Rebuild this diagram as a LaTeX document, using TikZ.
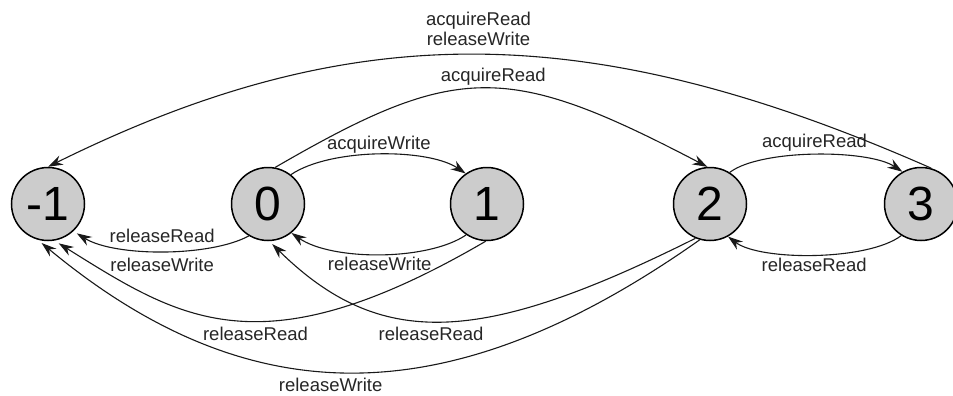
\documentclass[tikz,border=0pt]{standalone}
\usepackage{fontspec}
\setmainfont{Liberation Sans}
\usetikzlibrary{arrows.meta}
\definecolor{nodefill}{RGB}{204,204,204}
\definecolor{edgecol}{RGB}{25,25,25}
\begin{document}
\begin{tikzpicture}[x=1pt,y=-1pt,
  state/.style={circle,draw=black,line width=1.5pt,fill=nodefill,minimum size=73pt,inner sep=0pt,font=\fontsize{48}{48}\selectfont},
  edge/.style={draw=edgecol,line width=1.1pt,-{Stealth[length=15pt,width=10pt,inset=5pt]}},
  lbl/.style={font=\fontsize{18.5}{20}\selectfont,inner sep=0pt,text height=13pt,text depth=4pt,text=black!85},
  lbltwo/.style={font=\fontsize{18.5}{20}\selectfont,inner sep=0pt,align=center,text=black!85}]
\useasboundingbox (0,0) rectangle (953,396);
\node[state] (m1) at (48,204) {-1};
\node[state] (s0) at (268,204) {0};
\node[state] (s1) at (487,204) {1};
\node[state] (s2) at (710,204) {2};
\node[state] (s3) at (921,204) {3};
% 0 -> 1
\draw[edge] (s0.52) .. controls (330,148) and (428,148) .. node[lbl,pos=.5,yshift=10pt]{acquireWrite} (s1.125);
% 1 -> 0
\draw[edge] (s1.-124) .. controls (428,261) and (332,261) .. node[lbl,pos=.5,yshift=-12pt]{releaseWrite} (s0.-51);
% 0 -> -1
\draw[edge,shorten >=4pt] (s0.-121) .. controls (210,257) and (115,257) ..
  node[lbl,pos=.5,yshift=13pt]{releaseRead}
  node[lbl,pos=.5,yshift=-16pt]{releaseWrite} (m1.-47);
% 2 -> 3
\draw[edge] (s2.58) .. controls (760,149) and (868,149) .. node[lbl,pos=.5,yshift=12pt]{acquireRead} (s3.120);
% 3 -> 2
\draw[edge] (s3.-122) .. controls (868,261) and (760,261) .. node[lbl,pos=.5,yshift=-12pt]{releaseRead} (s2.-61);
% 0 -> 2
\draw[edge] (s0.79) .. controls (457,62) and (507,62) .. node[lbl,pos=.5,yshift=11pt,xshift=9pt]{acquireRead} (s2.94);
% 3 -> -1
\draw[edge] (s3.74) .. controls (588,17) and (351,17) .. node[lbltwo,pos=.5,yshift=26pt,xshift=4pt]{acquireRead\\releaseWrite} (m1.90);
% 1 -> -1
\draw[edge,shorten >=5pt] (s1.-92) .. controls (260,373) and (180,319) .. node[lbl,pos=.5,yshift=-16pt,xshift=23pt]{releaseRead} (m1.-80);
% 2 -> 0
\draw[edge,shorten >=4pt] (s2.-113) .. controls (480,346) and (380,350) .. node[lbl,pos=.5,yshift=-15pt,xshift=-12pt]{releaseRead} (s0.-88);
% 2 -> -1
\draw[edge,shorten >=5pt] (s2.-106) .. controls (450,416) and (250,416) .. node[lbl,pos=.5,yshift=-15pt,xshift=-24pt]{releaseWrite} (m1.-106);
\end{tikzpicture}
\end{document}
